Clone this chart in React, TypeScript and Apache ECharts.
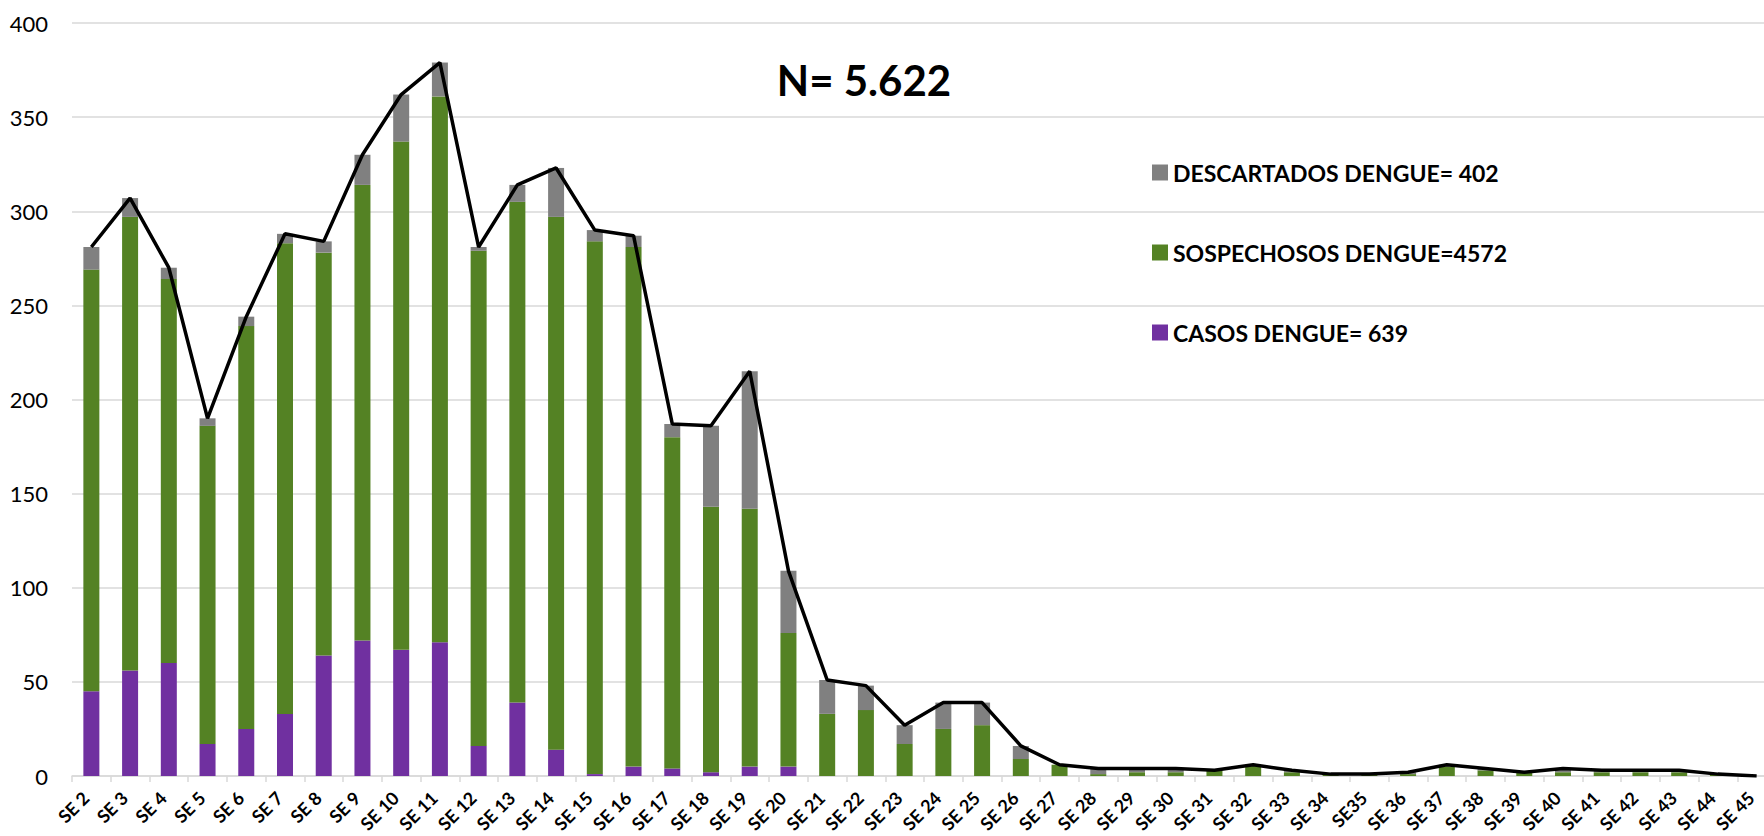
import React, { useEffect, useRef } from "react";
import * as echarts from "echarts";

const categories = [
  "SE 2", "SE 3", "SE 4", "SE 5", "SE 6", "SE 7", "SE 8", "SE 9", "SE 10", "SE 11",
  "SE 12", "SE 13", "SE 14", "SE 15", "SE 16", "SE 17", "SE 18", "SE 19", "SE 20", "SE 21",
  "SE 22", "SE 23", "SE 24", "SE 25", "SE 26", "SE 27", "SE 28", "SE 29", "SE 30", "SE 31",
  "SE 32", "SE 33", "SE 34", "SE35", "SE 36", "SE 37", "SE 38", "SE 39", "SE 40", "SE 41",
  "SE 42", "SE 43", "SE 44", "SE 45",
];

// CASOS DENGUE (purple, bottom segment)
const casos = [
  45, 56, 60, 17, 25, 33, 64, 72, 67, 71,
  16, 39, 14, 1, 5, 4, 2, 5, 5, 0,
  0, 0, 0, 0, 0, 0, 0, 0, 0, 0,
  0, 0, 0, 0, 0, 0, 0, 0, 0, 0,
  0, 0, 0, 0,
];

// SOSPECHOSOS DENGUE (green, middle segment)
const sospechosos = [
  224, 241, 204, 169, 214, 250, 214, 242, 270, 290,
  263, 266, 283, 283, 276, 176, 141, 137, 71, 33,
  35, 17, 25, 27, 9, 6, 1, 2, 2, 3,
  6, 2, 1, 1, 1, 5, 3, 2, 2, 2,
  2, 2, 1, 0,
];

// DESCARTADOS DENGUE (grey, top segment)
const descartados = [
  12, 10, 6, 4, 5, 5, 6, 16, 25, 18,
  2, 9, 26, 6, 6, 7, 43, 73, 33, 18,
  13, 10, 14, 12, 7, 0, 3, 2, 2, 0,
  0, 1, 0, 0, 1, 1, 1, 0, 2, 1,
  1, 1, 0, 0,
];

const legendNames = [
  "DESCARTADOS DENGUE= 402",
  "SOSPECHOSOS DENGUE=4572",
  "CASOS DENGUE= 639",
];

const yTicks = { min: 0, max: 400, interval: 50 };
const titleText = "N= 5.622";

export default function App() {
  const ref = useRef<HTMLDivElement>(null);

  useEffect(() => {
    if (!ref.current) return;
    const chart = echarts.init(ref.current, null, { renderer: "svg" });
    const totals = casos.map((c, i) => c + sospechosos[i] + descartados[i]);
    const font = "Lato, 'Open Sans', sans-serif";

    chart.setOption({
      animation: false,
      backgroundColor: "#ffffff",
      textStyle: { fontFamily: font },
      grid: {
        left: 72,
        top: 23,
        bottom: 60,
        right: -12,
        containLabel: false,
        outerBoundsMode: "none",
      },
      graphic: [
        {
          type: "text",
          x: 864,
          y: 80,
          style: {
            text: titleText,
            fontSize: 42,
            fontWeight: "bold",
            fontFamily: font,
            fill: "#000",
            textAlign: "center",
            textVerticalAlign: "middle",
          },
        },
      ],
      legend: {
        orient: "vertical",
        left: 1147,
        top: 156,
        itemWidth: 16,
        itemHeight: 16,
        itemGap: 57,
        icon: "rect",
        data: legendNames,
        textStyle: {
          fontSize: 23,
          fontWeight: "bold",
          color: "#000",
          fontFamily: font,
        },
      },
      xAxis: {
        type: "category",
        data: categories,
        axisLine: { lineStyle: { color: "#d9d9d9", width: 1.5 } },
        axisTick: { show: true, length: 6, lineStyle: { color: "#d9d9d9", width: 1.5 } },
        axisLabel: {
          interval: 0,
          rotate: 45,
          fontSize: 18,
          fontWeight: "bold",
          color: "#000",
          fontFamily: font,
          margin: 13,
          padding: [0, 8, 0, 0],
        },
      },
      yAxis: {
        type: "value",
        min: yTicks.min,
        max: yTicks.max,
        interval: yTicks.interval,
        axisLine: { show: false },
        axisTick: { show: false },
        splitLine: { lineStyle: { color: "#d9d9d9", width: 1.5 } },
        axisLabel: { fontSize: 22, color: "#000", fontFamily: font, margin: 24 },
      },
      series: [
        {
          name: legendNames[2],
          type: "bar",
          stack: "total",
          barWidth: 16,
          itemStyle: { color: "#7030A0" },
          data: casos,
        },
        {
          name: legendNames[1],
          type: "bar",
          stack: "total",
          barWidth: 16,
          itemStyle: { color: "#548224" },
          data: sospechosos,
        },
        {
          name: legendNames[0],
          type: "bar",
          stack: "total",
          barWidth: 16,
          itemStyle: { color: "#808080" },
          data: descartados,
        },
        {
          name: "Total",
          type: "line",
          data: totals,
          symbol: "none",
          z: 10,
          lineStyle: { color: "#000", width: 3.5 },
        },
      ],
    });

    return () => chart.dispose();
  }, []);

  return (
    <div
      ref={ref}
      style={{ position: "fixed", left: 0, top: 0, width: 1764, height: 836 }}
    />
  );
}
